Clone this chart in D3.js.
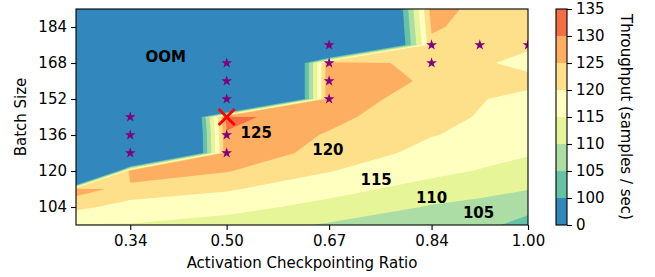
<!DOCTYPE html>
<html>
<head>
<meta charset="utf-8">
<script src="https://cdn.jsdelivr.net/npm/d3@7"></script>
<style>
body { margin: 0; background: #fff; }
text { font-family: "DejaVu Sans", sans-serif; }
</style>
</head>
<body>
<svg id="chart" width="655" height="277"></svg>
<script>
// grid of measured throughput, one row per batch size, columns follow ratios
var ratios = [0.25, 0.34, 0.50, 0.67, 0.84, 0.92, 1.00];
var batchSizes = [96, 104, 112, 120, 128, 136, 144, 152, 160, 168, 176, 184, 192];
var throughput = [
	[114.7, 114.7, 112.5, 109.5, 107.0, 106.5, 103.1],
	[121.2, 118.2, 117.0, 113.2, 109.6, 108.6, 106.6],
	[127.5, 122.9, 120.5, 117.0, 112.8, 111.5, 110.2],
	[0, 129.0, 125.3, 120.2, 116.5, 114.7, 113.0],
	[0, 10, 129.0, 123.0, 118.5, 117.0, 115.5],
	[0, 10, 129.5, 124.5, 120.2, 119.0, 116.5],
	[0, 10, 131.5, 126.5, 121.0, 119.8, 117.6],
	[0, 10, 5, 129.5, 121.0, 120.2, 119.0],
	[0, 10, 5, 129.5, 124.0, 121.5, 121.0],
	[0, 10, 5, 129.5, 122.0, 120.5, 119.0],
	[0, 10, 5, 30, 124.0, 122.0, 120.5],
	[0, 10, 5, 30, 125.6, 123.5, 121.5],
	[0, 10, 5, 30, 127.2, 123.5, 122.0]
];

var levels = [0, 100, 105, 110, 115, 120, 125, 130, 135];
var levelColors = ["#3288bd", "#66c2a5", "#abdda4", "#e6f598", "#ffffbf", "#fee08b", "#fdae61", "#f46d43"];

var xTicks = [0.34, 0.50, 0.67, 0.84, 1.00];
var yTicks = [104, 120, 136, 152, 168, 184];

// tested configurations and the chosen one
var starRatios = [0.34, 0.34, 0.34, 0.50, 0.50, 0.50, 0.50, 0.50, 0.67, 0.67, 0.67, 0.67, 0.84, 0.84, 0.92, 1.00];
var starBatches = [128, 136, 144, 128, 136, 152, 160, 168, 152, 160, 168, 176, 168, 176, 176, 176];
var bestPoint = [0.50, 144];

var labelTexts = ["OOM", "125", "120", "115", "110", "105"];
var labelRatios = [0.399, 0.549, 0.668, 0.748, 0.840, 0.918];
var labelBatches = [170.7, 136.9, 129.3, 116.4, 108.4, 101.3];

var margin = {left: 76, top: 9, right: 528, bottom: 225};
var svg = d3.select("#chart");

var x = d3.scaleLinear().domain([0.25, 1.0]).range([margin.left, margin.right]);
var y = d3.scaleLinear().domain([96, 192]).range([margin.bottom, margin.top]);

svg.append("defs").append("clipPath").attr("id", "plotClip")
	.append("rect")
	.attr("x", margin.left).attr("y", margin.top)
	.attr("width", margin.right - margin.left)
	.attr("height", margin.bottom - margin.top);

// grid coordinate (value i sits at i + 0.5) -> data value along a non uniform axis
function gridTo(arr, p) {
	var t = Math.max(0, Math.min(arr.length - 1, p - 0.5));
	var i = Math.min(arr.length - 2, Math.floor(t));
	return arr[i] + (arr[i + 1] - arr[i]) * (t - i);
}

var nx = ratios.length, ny = batchSizes.length;
var flat = [].concat.apply([], throughput);
var bands = d3.contours().size([nx, ny]).thresholds(levels.slice(0, -1))(flat);

var proj = d3.geoTransform({
	point: function (px, py) {
		this.stream.point(x(gridTo(ratios, px)), y(gridTo(batchSizes, py)));
	}
});
var path = d3.geoPath(proj);

var plot = svg.append("g").attr("clip-path", "url(#plotClip)");

plot.selectAll("path.band")
	.data(bands)
	.enter().append("path")
	.attr("class", "band")
	.attr("d", path)
	.attr("fill", function (d, i) { return levelColors[i]; })
	.attr("fill-rule", "evenodd");

plot.selectAll("path.star")
	.data(starRatios)
	.enter().append("path")
	.attr("class", "star")
	.attr("d", d3.symbol().type(d3.symbolStar).size(36))
	.attr("transform", function (d, i) { return "translate(" + x(d) + "," + y(starBatches[i]) + ")"; })
	.attr("fill", "#800080");

var bx = x(bestPoint[0]), by = y(bestPoint[1]);
plot.append("path")
	.attr("d", "M" + (bx - 8) + "," + (by - 8) + "L" + (bx + 8) + "," + (by + 8) +
		"M" + (bx - 8) + "," + (by + 8) + "L" + (bx + 8) + "," + (by - 8))
	.attr("stroke", "#ff0000")
	.attr("stroke-width", 2.8)
	.attr("fill", "none");

plot.selectAll("text.lab")
	.data(labelTexts)
	.enter().append("text")
	.attr("class", "lab")
	.attr("x", function (d, i) { return x(labelRatios[i]); })
	.attr("y", function (d, i) { return y(labelBatches[i]); })
	.attr("dy", "0.36em")
	.attr("text-anchor", "middle")
	.attr("font-weight", "bold")
	.attr("font-size", "15px")
	.text(function (d) { return d; });

// frame
svg.append("rect")
	.attr("x", margin.left).attr("y", margin.top)
	.attr("width", margin.right - margin.left)
	.attr("height", margin.bottom - margin.top)
	.attr("fill", "none").attr("stroke", "#000").attr("stroke-width", 1.1);

var xAxis = svg.append("g")
	.attr("transform", "translate(0," + margin.bottom + ")")
	.call(d3.axisBottom(x).tickValues(xTicks).tickFormat(d3.format(".2f")).tickSize(5).tickPadding(5).tickSizeOuter(0));
var yAxis = svg.append("g")
	.attr("transform", "translate(" + margin.left + ",0)")
	.call(d3.axisLeft(y).tickValues(yTicks).tickSize(5).tickPadding(4).tickSizeOuter(0));

[xAxis, yAxis].forEach(function (a) {
	a.select(".domain").remove();
	a.selectAll("text").attr("font-size", "15px").attr("font-family", "DejaVu Sans").attr("fill", "#000");
	a.selectAll("line").attr("stroke", "#000").attr("stroke-width", 1.1);
});

svg.append("text")
	.attr("x", (margin.left + margin.right) / 2).attr("y", 268)
	.attr("text-anchor", "middle").attr("font-size", "15px")
	.text("Activation Checkpointing Ratio");

svg.append("text")
	.attr("transform", "translate(21," + (margin.top + margin.bottom) / 2 + ") rotate(-90)")
	.attr("text-anchor", "middle").attr("dy", "0.36em").attr("font-size", "15px")
	.text("Batch Size");

// colorbar
var cbLeft = 556, cbWidth = 11;
var cb = d3.scalePoint().domain(levels.map(String)).range([margin.bottom, margin.top]);

svg.selectAll("rect.cb")
	.data(levelColors)
	.enter().append("rect")
	.attr("class", "cb")
	.attr("x", cbLeft)
	.attr("y", function (d, i) { return cb(String(levels[i + 1])); })
	.attr("width", cbWidth)
	.attr("height", function (d, i) { return cb(String(levels[i])) - cb(String(levels[i + 1])); })
	.attr("fill", function (d) { return d; });

svg.append("rect")
	.attr("x", cbLeft).attr("y", margin.top)
	.attr("width", cbWidth).attr("height", margin.bottom - margin.top)
	.attr("fill", "none").attr("stroke", "#000").attr("stroke-width", 1.1);

var cbAxis = svg.append("g")
	.attr("transform", "translate(" + (cbLeft + cbWidth) + ",0)")
	.call(d3.axisRight(cb).tickSize(5).tickPadding(4));
cbAxis.select(".domain").remove();
cbAxis.selectAll("text").attr("font-size", "15px").attr("font-family", "DejaVu Sans").attr("fill", "#000");
cbAxis.selectAll("line").attr("stroke", "#000").attr("stroke-width", 1.1);

svg.append("text")
	.attr("transform", "translate(626," + (margin.top + margin.bottom) / 2 + ") rotate(90)")
	.attr("text-anchor", "middle").attr("dy", "0.36em").attr("font-size", "15px")
	.text("Throughput (samples / sec)");
</script>
</body>
</html>
